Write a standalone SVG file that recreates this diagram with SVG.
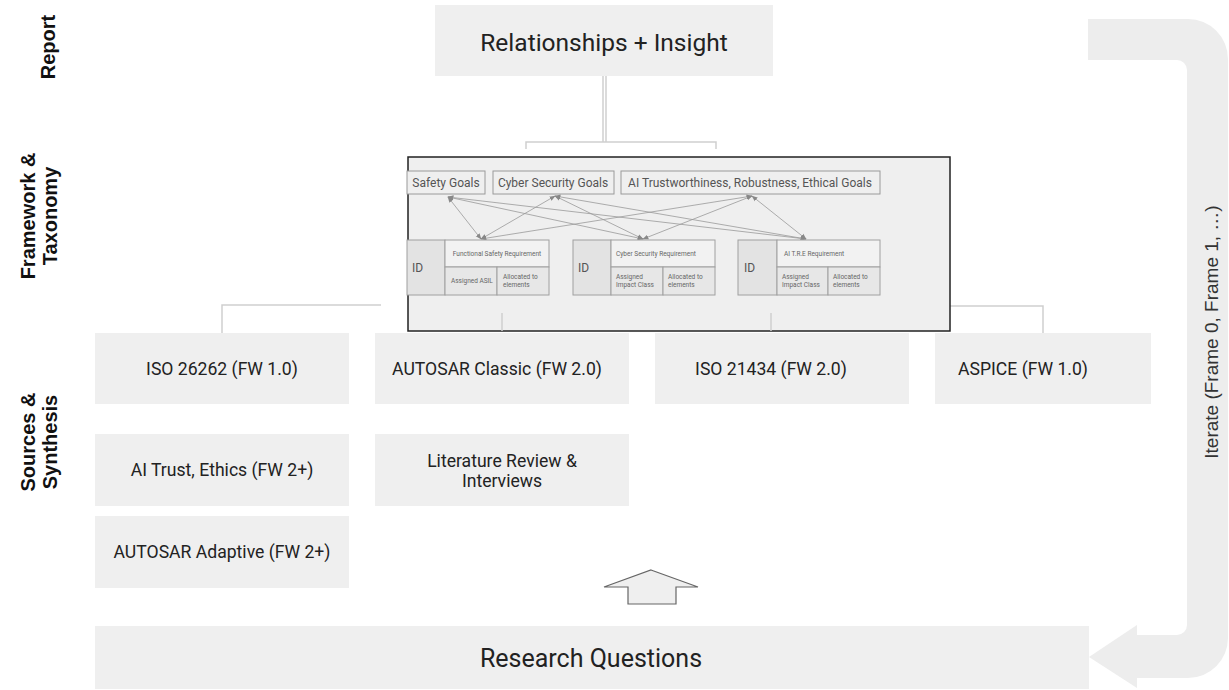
<svg xmlns="http://www.w3.org/2000/svg" width="1229" height="690" viewBox="0 0 1229 690">
<defs>
<style>
.box{fill:#efefef;stroke:none}
.t{font-family:Roboto,"Liberation Sans",sans-serif;fill:#222;text-anchor:middle;dominant-baseline:central}
.s{font-size:17.6px}
.lab{font-family:"Liberation Sans",Arial,sans-serif;font-weight:bold;font-size:20px;fill:#111;text-anchor:middle}
.goal{fill:#efefef;stroke:#9a9a9a;stroke-width:1}
.gt{font-family:Roboto,"Liberation Sans",sans-serif;font-size:12px;fill:#555;text-anchor:middle;dominant-baseline:central}
.cell{stroke:#a0a0a0;stroke-width:1}
.st{font-family:Roboto,"Liberation Sans",sans-serif;font-size:6.5px;fill:#666}
.idt{font-family:Roboto,"Liberation Sans",sans-serif;font-size:12px;fill:#555}
.con{stroke:#cfcfcf;stroke-width:1.5;fill:none}
.rel{stroke:#999;stroke-width:0.8;fill:none;marker-start:url(#ah);marker-end:url(#ah)}
</style>
<marker id="ah" viewBox="0 0 10 10" refX="9" refY="5" markerWidth="6" markerHeight="6" orient="auto-start-reverse" markerUnits="userSpaceOnUse">
<path d="M0,1 L10,5 L0,9 z" fill="#888"/>
</marker>
</defs>

<!-- lane labels -->
<g id="lane-labels">
<text class="lab" transform="translate(55,47) rotate(-90)">Report</text>
<text class="lab" transform="translate(35,216) rotate(-90)">Framework &amp;</text>
<text class="lab" transform="translate(57,216) rotate(-90)">Taxonomy</text>
<text class="lab" transform="translate(35,442) rotate(-90)">Sources &amp;</text>
<text class="lab" transform="translate(57,442) rotate(-90)">Synthesis</text>
</g>

<!-- iterate U-arrow -->
<g id="iterate">
<path d="M1088,19 L1188,19 A40,40 0 0 1 1228,59 L1228,638 A40,40 0 0 1 1188,678 L1137,678 L1137,688 L1089,657 L1137,625 L1137,635 L1177,635 A10,10 0 0 0 1187,625 L1187,70 A10,10 0 0 0 1177,60 L1088,60 Z" fill="#ededed"/>
<text transform="translate(1211,332) rotate(-90)" font-family="'Liberation Sans',Arial,sans-serif" font-size="19" fill="#333" text-anchor="middle" dominant-baseline="central">Iterate (Frame 0, Frame 1, …)</text>
</g>

<!-- connectors -->
<g id="connectors">
<line class="con" x1="603" y1="76" x2="603" y2="142"/>
<line class="con" x1="606" y1="76" x2="606" y2="142"/>
<path class="con" d="M526,149 L526,142 L716,142 L716,149"/>
<path class="con" d="M381,305 L222,305 L222,333"/>
<path class="con" d="M896,306 L1043,306 L1043,333"/>
</g>

<!-- report -->
<g id="report">
<rect class="box" x="435" y="5" width="338" height="71"/>
<text class="t" x="604" y="42" font-size="24.5">Relationships + Insight</text>
</g>

<!-- framework -->
<g id="framework">
<rect x="408" y="157" width="542" height="174" fill="#efefef" stroke="#222" stroke-width="1.5"/>
<line class="con" x1="502" y1="313" x2="502" y2="331"/>
<line class="con" x1="771" y1="313" x2="771" y2="331"/>

<g id="goal-safety">
<rect class="goal" x="407" y="171" width="78" height="23"/>
<text class="gt" x="446" y="183">Safety Goals</text>
</g>
<g id="goal-cyber">
<rect class="goal" x="493" y="171" width="121" height="23"/>
<text class="gt" x="553" y="183">Cyber Security Goals</text>
</g>
<g id="goal-ai">
<rect class="goal" x="621" y="171" width="259" height="23"/>
<text class="gt" x="750" y="183">AI Trustworthiness, Robustness, Ethical Goals</text>
</g>

<g id="rel-lines">
<line class="rel" x1="448" y1="197" x2="481" y2="239"/>
<line class="rel" x1="448" y1="197" x2="643" y2="239"/>
<line class="rel" x1="448" y1="197" x2="806" y2="239"/>
<line class="rel" x1="555" y1="196" x2="481" y2="239"/>
<line class="rel" x1="555" y1="196" x2="643" y2="239"/>
<line class="rel" x1="555" y1="196" x2="806" y2="239"/>
<line class="rel" x1="752" y1="196" x2="481" y2="239"/>
<line class="rel" x1="752" y1="196" x2="643" y2="239"/>
<line class="rel" x1="752" y1="196" x2="806" y2="239"/>
</g>

<g id="req-safety">
<rect class="cell" x="407" y="240" width="38" height="55" fill="#e3e3e3"/>
<rect class="cell" x="445" y="240" width="104" height="27" fill="#f2f2f2"/>
<rect class="cell" x="445" y="267" width="52" height="28" fill="#e7e7e7"/>
<rect class="cell" x="497" y="267" width="52" height="28" fill="#e7e7e7"/>
<text class="idt" x="412" y="272">ID</text>
<text class="st" x="497" y="256" text-anchor="middle">Functional Safety Requirement</text>
<text class="st" x="451" y="283">Assigned ASIL</text>
<text class="st" x="503" y="279">Allocated to</text>
<text class="st" x="503" y="287">elements</text>
</g>

<g id="req-cyber">
<rect class="cell" x="573" y="240" width="38" height="55" fill="#e3e3e3"/>
<rect class="cell" x="611" y="240" width="104" height="27" fill="#f2f2f2"/>
<rect class="cell" x="611" y="267" width="52" height="28" fill="#e7e7e7"/>
<rect class="cell" x="663" y="267" width="52" height="28" fill="#e7e7e7"/>
<text class="idt" x="578" y="272">ID</text>
<text class="st" x="656" y="256" text-anchor="middle">Cyber Security Requirement</text>
<text class="st" x="616" y="279">Assigned</text>
<text class="st" x="616" y="287">Impact Class</text>
<text class="st" x="668" y="279">Allocated to</text>
<text class="st" x="668" y="287">elements</text>
</g>

<g id="req-ai">
<rect class="cell" x="738" y="240" width="39" height="55" fill="#e3e3e3"/>
<rect class="cell" x="777" y="240" width="103" height="27" fill="#f2f2f2"/>
<rect class="cell" x="777" y="267" width="51" height="28" fill="#e7e7e7"/>
<rect class="cell" x="828" y="267" width="52" height="28" fill="#e7e7e7"/>
<text class="idt" x="744" y="272">ID</text>
<text class="st" x="784" y="256">AI T.R.E Requirement</text>
<text class="st" x="782" y="279">Assigned</text>
<text class="st" x="782" y="287">Impact Class</text>
<text class="st" x="833" y="279">Allocated to</text>
<text class="st" x="833" y="287">elements</text>
</g>
</g>

<!-- sources -->
<g id="src-iso26262">
<rect class="box" x="95" y="333" width="254" height="71"/>
<text class="t s" x="222" y="369">ISO 26262 (FW 1.0)</text>
</g>
<g id="src-autosar-classic">
<rect class="box" x="375" y="333" width="254" height="71"/>
<text class="t s" x="497" y="369">AUTOSAR Classic (FW 2.0)</text>
</g>
<g id="src-iso21434">
<rect class="box" x="655" y="333" width="254" height="71"/>
<text class="t s" x="771" y="369">ISO 21434 (FW 2.0)</text>
</g>
<g id="src-aspice">
<rect class="box" x="935" y="333" width="216" height="71"/>
<text class="t s" x="1023" y="369">ASPICE (FW 1.0)</text>
</g>
<g id="src-ai-trust">
<rect class="box" x="95" y="434" width="254" height="72"/>
<text class="t s" x="222" y="470">AI Trust, Ethics (FW 2+)</text>
</g>
<g id="src-literature">
<rect class="box" x="375" y="434" width="254" height="72"/>
<text class="t s" x="502" y="461">Literature Review &amp;</text>
<text class="t s" x="502" y="481">Interviews</text>
</g>
<g id="src-autosar-adaptive">
<rect class="box" x="95" y="516" width="254" height="72"/>
<text class="t s" x="222" y="552">AUTOSAR Adaptive (FW 2+)</text>
</g>

<!-- up arrow -->
<g id="up-arrow">
<path d="M651,570 L698,587 L676,587 L676,604 L628,604 L628,587 L604,587 Z" fill="#efefef" stroke="#666" stroke-width="1.2"/>
</g>

<!-- research questions -->
<g id="research-questions">
<rect class="box" x="95" y="626" width="994" height="63"/>
<text class="t" x="591" y="658" font-size="25">Research Questions</text>
</g>
</svg>
